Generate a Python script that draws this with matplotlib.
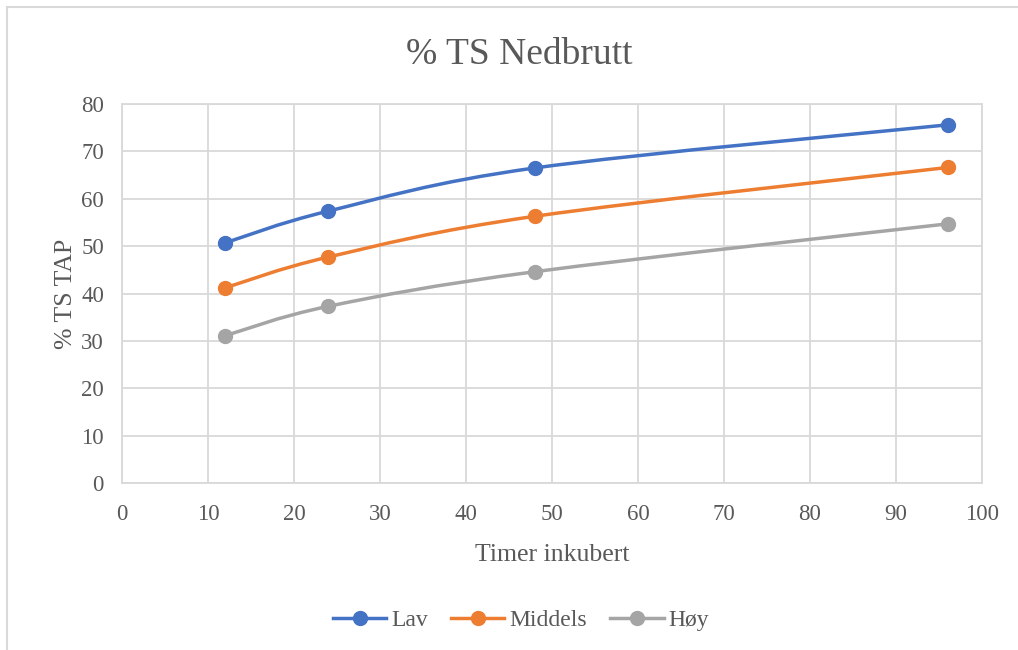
import matplotlib.pyplot as plt
from matplotlib.path import Path
from matplotlib.patches import PathPatch, Rectangle
from matplotlib.lines import Line2D

# hours incubated
timer = [12, 24, 48, 96]

lav = [50.7, 57.4, 66.5, 75.6]
middels = [41.2, 47.7, 56.3, 66.6]
hoy = [31.1, 37.3, 44.6, 54.7]

series = [('Lav', lav, '#4472C4'),
          ('Middels', middels, '#ED7D31'),
          ('Høy', hoy, '#A5A5A5')]

plt.rcParams['font.family'] = ['Liberation Serif', 'DejaVu Serif']
txt = '#595959'
grid = '#D9D9D9'


def smooth_path(xs, ys):
    # excel-like smoothed line: catmull-rom as cubic bezier segments
    pts = list(zip(xs, ys))
    verts = [pts[0]]
    codes = [Path.MOVETO]
    n = len(pts)
    for i in range(n - 1):
        p0 = pts[max(i - 1, 0)]
        p1 = pts[i]
        p2 = pts[i + 1]
        p3 = pts[min(i + 2, n - 1)]
        c1 = (p1[0] + (p2[0] - p0[0]) / 6, p1[1] + (p2[1] - p0[1]) / 6)
        c2 = (p2[0] - (p3[0] - p1[0]) / 6, p2[1] - (p3[1] - p1[1]) / 6)
        verts += [c1, c2, p2]
        codes += [Path.CURVE4] * 3
    return Path(verts, codes)


fig = plt.figure(figsize=(10.18, 6.5), dpi=100)
ax = fig.add_axes([122 / 1018, 1 - 483 / 650, 860 / 1018, 379 / 650])

handles = []
for name, vals, col in series:
    ax.add_patch(PathPatch(smooth_path(timer, vals), fill=False, edgecolor=col,
                           lw=2.5, capstyle='round', zorder=3))
    ax.plot(timer, vals, 'o', color=col, markersize=10, zorder=4)
    handles.append(Line2D([], [], color=col, lw=2.5, marker='o', markersize=10))

ax.set_xlim(0, 100)
ax.set_ylim(0, 80)
ax.set_xticks(range(0, 101, 10))
ax.set_yticks(range(0, 81, 10))
ax.grid(True, color=grid, lw=1.3)
ax.set_axisbelow(True)
for s in ax.spines.values():
    s.set_color(grid)
    s.set_linewidth(1.3)
ax.tick_params(length=0, labelsize=16.5, labelcolor=txt)
ax.tick_params(axis='x', pad=15)
ax.tick_params(axis='y', pad=13)

# title is centred on the whole chart box, not the plot area
ax.set_title('% TS Nedbrutt', fontsize=27, color=txt, pad=29,
             x=(519 - 122) / 860)
ax.set_xlabel('Timer inkubert', fontsize=18.5, color=txt, labelpad=14)
ax.set_ylabel('% TS TAP', fontsize=18.5, color=txt, labelpad=3)

leg = fig.legend(handles=handles, labels=[s[0] for s in series], loc='center',
                 bbox_to_anchor=(521 / 1018, 1 - 620 / 650), ncol=3,
                 frameon=False, fontsize=17, handlelength=2.25,
                 columnspacing=1.0, handletextpad=0.2)
for t in leg.get_texts():
    t.set_color(txt)

# outer chart border (cut off at right and bottom)
fig.patches.append(Rectangle((6.5 / 1018, -0.1), 1.2, 1.1 - 7.5 / 650,
                             transform=fig.transFigure, fill=False,
                             edgecolor=grid, lw=1.5))

fig.savefig('out.png', dpi=100)
